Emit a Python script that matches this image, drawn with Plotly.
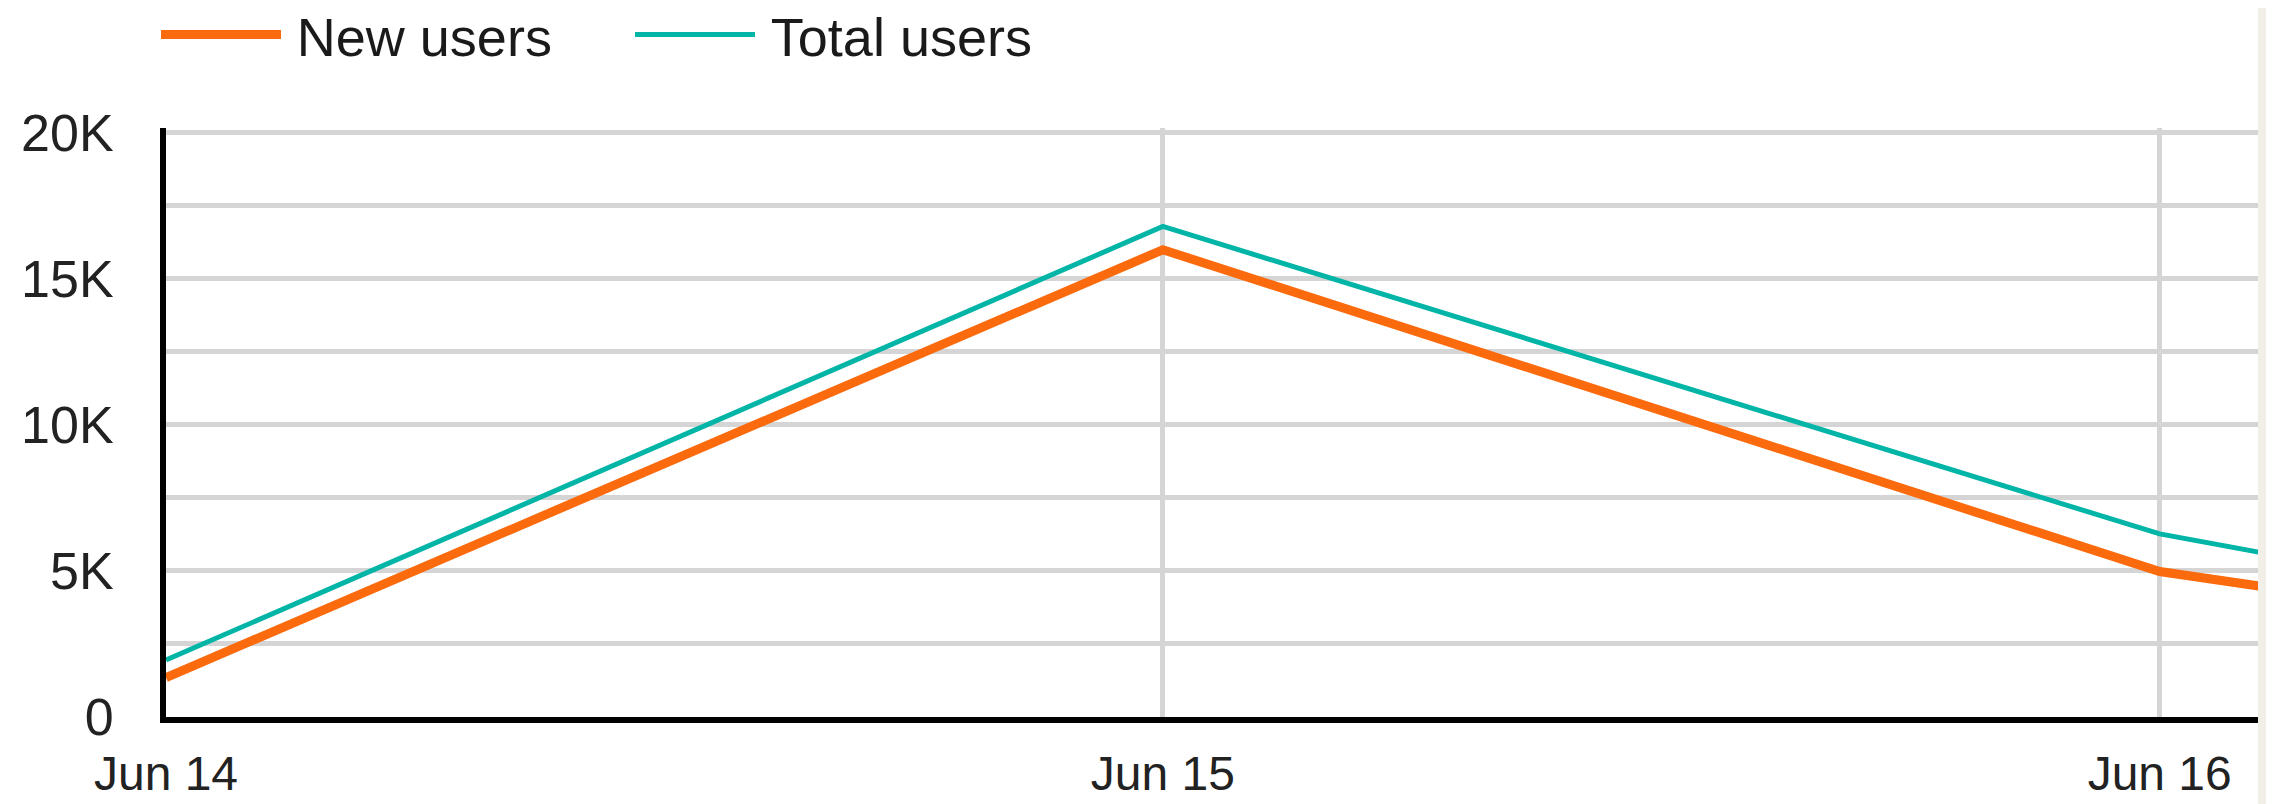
import plotly.graph_objects as go

# ---- data ----
dates = ["2024-06-14", "2024-06-15", "2024-06-16", "2024-06-17"]
new_users = [1350, 16000, 4980, 0]
total_users = [1950, 16800, 6270, 0]

x_tick_vals = ["2024-06-14", "2024-06-15", "2024-06-16"]
x_tick_text = ["Jun 14", "Jun 15", "Jun 16"]
y_tick_vals = [0, 5000, 10000, 15000, 20000]
y_tick_text = ["0", "5K", "10K", "15K", "20K"]
series_names = ["\u2009New users", "\u2009Total users"]

W, H = 2274, 804
ML, MT, MB, MR = 158, 120, 95, 24
PW = W - ML - MR
PH = H - MT - MB

FONT = "Liberation Sans, Arial, sans-serif"
ORANGE = "#fb6a0c"
TEAL = "#02b5a6"
GRID = "#d5d5d5"

fig = go.Figure()
fig.add_trace(go.Scatter(
    x=dates, y=new_users, mode="lines", name=series_names[0],
    line=dict(color=ORANGE, width=9), legend="legend",
))
fig.add_trace(go.Scatter(
    x=dates, y=total_users, mode="lines", name=series_names[1],
    line=dict(color=TEAL, width=5), legend="legend2",
))

def px_to_paper_x(px):
    return (px - ML) / PW

def px_to_paper_y(py):
    return (H - MB - py) / PH

legend_common = dict(
    orientation="h", yanchor="middle", xanchor="left",
    y=px_to_paper_y(27), bgcolor="rgba(0,0,0,0)", borderwidth=0,
    font=dict(family=FONT, size=54, color="#1a1a1a"),
    itemwidth=120, itemclick=False,
)

fig.update_layout(
    width=W, height=H,
    margin=dict(l=ML, r=MR, t=MT, b=MB, pad=0, autoexpand=False),
    paper_bgcolor="white", plot_bgcolor="white",
    font=dict(family=FONT, size=52, color="#222222"),
    showlegend=True,
    legend=dict(x=px_to_paper_x(148), **legend_common),
    legend2=dict(x=px_to_paper_x(622), **legend_common),
    xaxis=dict(
        type="date", automargin=False,
        range=["2024-06-14 00:00", "2024-06-16 02:22"],
        tickvals=x_tick_vals, ticktext=x_tick_text,
        showgrid=True, gridcolor=GRID, gridwidth=5,
        showline=True, linecolor="black", linewidth=6,
        zeroline=False, ticks="", ticklabelstandoff=9,
        tickfont=dict(family=FONT, size=48, color="#222222"),
        fixedrange=True,
    ),
    yaxis=dict(
        range=[0, 20169], automargin=False,
        tickvals=y_tick_vals, ticktext=y_tick_text,
        showgrid=True, gridcolor=GRID, gridwidth=5,
        minor=dict(dtick=2500, showgrid=True, gridcolor=GRID, gridwidth=5),
        showline=True, linecolor="black", linewidth=6,
        zeroline=False, ticks="", ticklabelstandoff=36,
        tickfont=dict(family=FONT, size=52, color="#222222"),
        fixedrange=True,
    ),
    shapes=[dict(
        type="rect", xref="paper", yref="paper",
        x0=1.0, x1=1.0 + (MR + 5) / PW, y0=-0.3, y1=1.4,
        fillcolor="#f2efe8", line=dict(width=0), layer="above",
    )],
)

fig.write_html("out.html")
